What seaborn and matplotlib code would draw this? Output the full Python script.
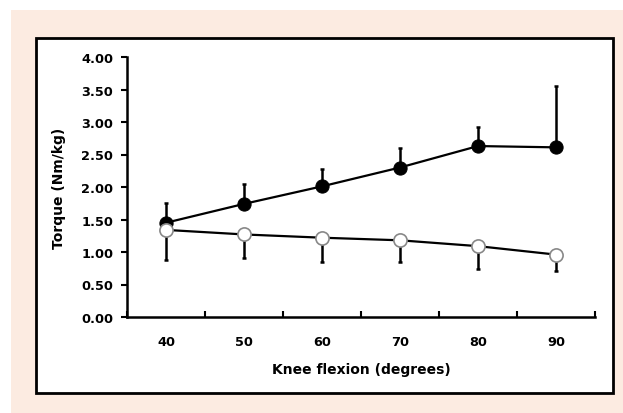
import matplotlib
matplotlib.use('Agg')
import numpy as np
import pandas as pd
import matplotlib.pyplot as plt
import matplotlib.patches as patches
import seaborn as sns

# Valorile
knee_angle = [40, 50, 60, 70, 80, 90]
filled_mean = [1.45, 1.74, 2.01, 2.30, 2.63, 2.61]
filled_sd = [0.31, 0.30, 0.27, 0.30, 0.29, 0.94]
open_mean = [1.34, 1.27, 1.22, 1.18, 1.09, 0.96]
open_sd = [0.47, 0.36, 0.38, 0.33, 0.35, 0.25]
y_ticks = [0.0, 0.5, 1.0, 1.5, 2.0, 2.5, 3.0, 3.5, 4.0]

df = pd.DataFrame({'angle': knee_angle * 2,
                   'torque': filled_mean + open_mean,
                   'group': ['filled'] * 6 + ['open'] * 6})

sns.set_style('white')
plt.rcParams['font.family'] = ['DejaVu Sans']
plt.rcParams['font.weight'] = 'bold'
plt.rcParams['text.color'] = 'black'
plt.rcParams['axes.labelcolor'] = 'black'
plt.rcParams['xtick.color'] = 'black'
plt.rcParams['ytick.color'] = 'black'

fig = plt.figure(figsize=(6.23, 4.14), dpi=100)
fig.patch.set_facecolor('white')

# fundalul piersica si cadrul alb
fig.patches.append(patches.Rectangle((11 / 623, 0), 612 / 623, 403 / 414,
                                     transform=fig.transFigure, facecolor='#fcebe1',
                                     edgecolor='none', zorder=-2))
fig.patches.append(patches.Rectangle((36 / 623, 20 / 414), 577 / 623, 355 / 414,
                                     transform=fig.transFigure, facecolor='white',
                                     edgecolor='black', linewidth=2, zorder=-1))

ax = fig.add_axes([127 / 623, 96 / 414, 468 / 623, 260 / 414])
ax.patch.set_alpha(0)

# bare de eroare unilaterale
ax.errorbar(knee_angle, filled_mean, yerr=[np.zeros(6), filled_sd], fmt='none',
            ecolor='black', elinewidth=1.8, capsize=1.5, capthick=1.8, zorder=2)
ax.errorbar(knee_angle, open_mean, yerr=[open_sd, np.zeros(6)], fmt='none',
            ecolor='black', elinewidth=1.8, capsize=1.5, capthick=1.8, zorder=2)

sns.lineplot(data=df[df.group == 'filled'], x='angle', y='torque', color='black',
             linewidth=1.6, marker='o', markersize=9.5, markerfacecolor='black',
             markeredgecolor='black', ax=ax, zorder=3)
sns.lineplot(data=df[df.group == 'open'], x='angle', y='torque', color='black',
             linewidth=1.6, marker='o', markersize=9.5, markerfacecolor='white',
             markeredgecolor='#888888', markeredgewidth=1.2, ax=ax, zorder=3)

ax.set_xlim(35, 95)
ax.set_ylim(0, 4)
ax.set_yticks(y_ticks)
ax.set_yticklabels(['%.2f' % v for v in y_ticks], fontsize=9.3, fontweight='bold')
ax.set_xticks(np.arange(35, 96, 10))
ax.set_xticklabels([])
ax.set_xticks(knee_angle, minor=True)
ax.set_xticklabels([str(a) for a in knee_angle], minor=True, fontsize=9.3, fontweight='bold')
ax.tick_params(axis='x', which='major', direction='in', length=4, width=1.5, bottom=True)
ax.tick_params(axis='x', which='minor', length=0, pad=13)
ax.tick_params(axis='y', direction='out', length=4, width=1.5, left=True, pad=6)

for s in ['top', 'right']:
    ax.spines[s].set_visible(False)
for s in ['left', 'bottom']:
    ax.spines[s].set_color('black')
    ax.spines[s].set_linewidth(1.8)

ax.set_xlabel('Knee flexion (degrees)', fontsize=10, fontweight='bold', labelpad=10)
ax.set_ylabel('Torque (Nm/kg)', fontsize=10, fontweight='bold', labelpad=11)

fig.savefig('out.png', dpi=100)
